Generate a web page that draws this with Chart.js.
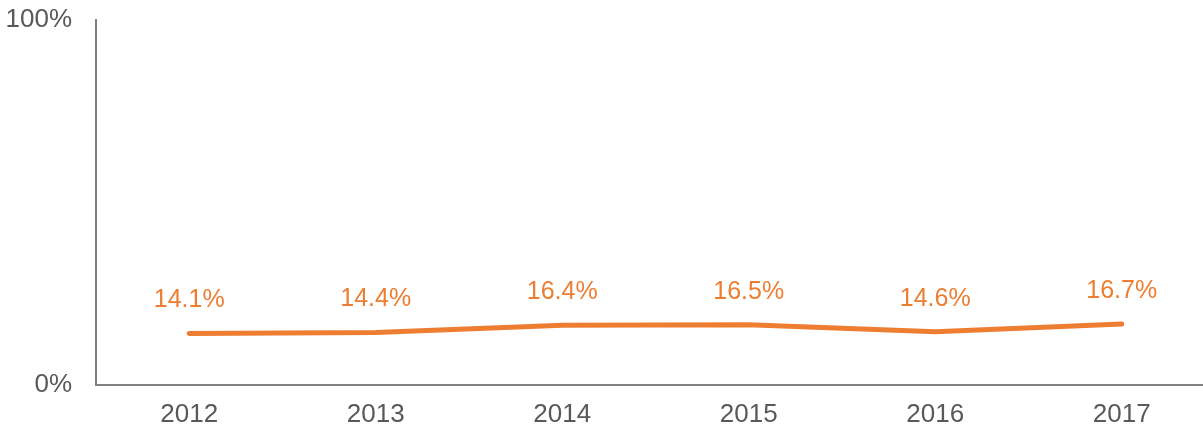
<!DOCTYPE html>
<html>
<head>
<meta charset="utf-8">
<script src="https://cdn.jsdelivr.net/npm/chart.js@4"></script>
<style>
  html, body { margin: 0; padding: 0; background: #fff; overflow: hidden; }
  #wrap { width: 1215px; height: 433px; }
</style>
</head>
<body>
<div id="wrap"><canvas id="chart"></canvas></div>
<script>
const years = ['2012', '2013', '2014', '2015', '2016', '2017'];
const shares = [14.1, 14.4, 16.4, 16.5, 14.6, 16.7];
const yTicks = [0, 100];

const ORANGE = '#ED7D31';
const GREY_TEXT = '#595959';
const GREY_AXIS = '#7F7F7F';
const FONT = 'Liberation Sans, Arial, sans-serif';

// etiquetas de valor encima de cada punto
const valueLabels = {
    id: 'valueLabels',
    afterDatasetsDraw(chart) {
        const ctx = chart.ctx;
        const meta = chart.getDatasetMeta(0);
        ctx.save();
        ctx.font = `25px ${FONT}`;
        ctx.fillStyle = ORANGE;
        ctx.textAlign = 'center';
        ctx.textBaseline = 'middle';
        meta.data.forEach((pt, i) => {
            ctx.fillText(shares[i].toFixed(1) + '%', pt.x, pt.y - 33);
        });
        ctx.restore();
    }
};

new Chart(document.getElementById('chart'), {
    type: 'line',
    data: {
        labels: years,
        datasets: [{
            data: shares,
            borderColor: ORANGE,
            borderWidth: 5,
            borderCapStyle: 'round',
            pointRadius: 0,
            tension: 0,
            fill: false
        }]
    },
    options: {
        responsive: true,
        maintainAspectRatio: false,
        animation: false,
        layout: { padding: { top: 20, left: 0, right: 0, bottom: 0 } },
        plugins: {
            legend: { display: false },
            tooltip: { enabled: false }
        },
        scales: {
            x: {
                offset: true,
                afterFit(scale) { scale.height = 48; },
                grid: { display: false, drawTicks: false },
                border: { color: GREY_AXIS, width: 2 },
                ticks: {
                    color: GREY_TEXT,
                    font: { family: FONT, size: 26 },
                    padding: 14,
                    maxRotation: 0
                }
            },
            y: {
                min: 0,
                max: 100,
                afterBuildTicks(scale) {
                    scale.ticks = yTicks.map(v => ({ value: v }));
                },
                afterFit(scale) {
                    scale.width = 96;
                    scale.paddingTop = 0;
                    scale.paddingBottom = 0;
                },
                grid: { display: false, drawTicks: false },
                border: { color: GREY_AXIS, width: 2 },
                ticks: {
                    color: GREY_TEXT,
                    font: { family: FONT, size: 26 },
                    padding: 24,
                    callback: v => v + '%'
                }
            }
        }
    },
    plugins: [valueLabels]
});
</script>
</body>
</html>
